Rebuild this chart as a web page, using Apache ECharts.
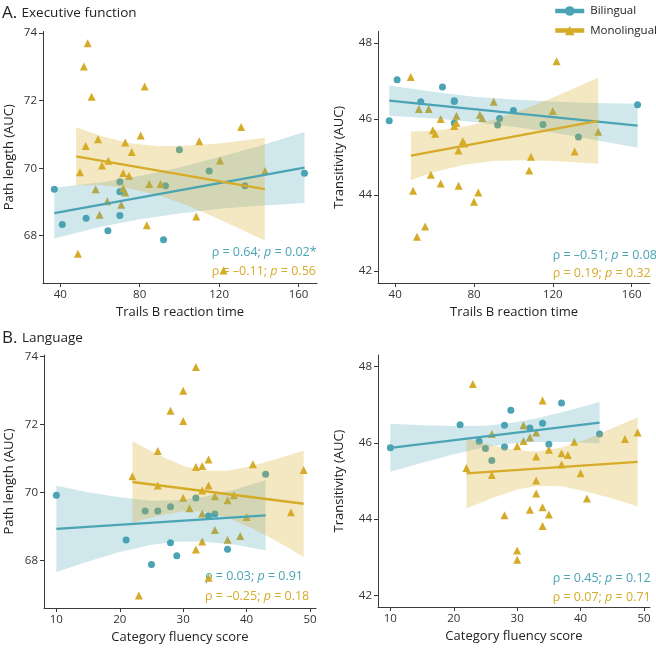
<!DOCTYPE html>
<html><head><meta charset="utf-8">
<script src="https://cdn.jsdelivr.net/npm/echarts@6/dist/echarts.min.js"></script>
<style>html,body{margin:0;padding:0;background:#fff}#c{width:656px;height:649px}</style>
</head><body><div id="c"></div>
<script>
// ---------- DATA ----------
// Panel A: Trails B reaction time (x)
const execBiPath = [[37,69.38],[41,68.33],[53,68.52],[64,68.15],[70,69.60],[70,69.30],[70,68.60],[92,67.88],[93,69.48],[100,70.55],[115,69.92],[133,69.48],[163,69.85]];
const execMonoPath = [[53.8,73.70],[51.9,73.01],[55.8,72.12],[82.5,72.42],[131.1,71.22],[80.5,70.97],[59.0,70.86],[110.0,70.80],[72.7,70.76],[52.8,70.66],[76.0,70.48],[64.2,70.22],[120.4,70.23],[61.0,70.08],[49.9,69.88],[71.7,69.86],[74.6,69.78],[143.1,69.92],[84.8,69.53],[90.5,69.53],[57.8,69.38],[71.7,69.41],[72.7,69.28],[63.7,69.02],[70.7,68.92],[59.8,68.62],[108.5,68.57],[83.6,68.31],[48.9,67.47],[122.2,66.97]];
const execBiTrans = [[37,45.95],[41,47.03],[53,46.45],[64,46.84],[70,46.48],[70,45.89],[70,46.46],[92,45.84],[93,46.01],[100,46.22],[115,45.85],[133,45.52],[163,46.37]];
const execMonoTrans = [[47.9,47.10],[121.9,47.52],[90.0,46.45],[52.0,46.26],[57.0,46.26],[120.0,46.21],[63.1,46.00],[71.1,46.08],[83.0,46.11],[84.2,46.02],[70.0,45.81],[71.1,45.89],[59.1,45.70],[60.3,45.61],[74.3,45.41],[75.1,45.35],[72.1,45.17],[143.0,45.66],[131.1,45.14],[108.9,45.00],[108.0,44.64],[58.1,44.53],[63.1,44.30],[72.2,44.24],[49.1,44.11],[82.2,44.06],[80.0,43.82],[55.2,43.17],[51.1,42.90]];
// Panel B: Category fluency score (x)
const langBiPath = [[10,69.92],[21,68.60],[24,69.46],[26,69.46],[28,69.58],[28,68.52],[25,67.88],[29,68.14],[32,69.84],[34,69.31],[35,69.37],[37,68.33],[43,70.54]];
const langMonoPath = [[32,73.70],[30,73.00],[28,72.41],[30,72.11],[26,71.22],[34,70.97],[32,70.75],[33,70.78],[41,70.83],[49,70.66],[22,70.48],[26,70.21],[34,70.21],[33,70.06],[30,69.85],[35,69.89],[38,69.92],[37,69.77],[31,69.54],[33,69.38],[47,69.42],[40,69.28],[35,68.90],[39,68.72],[33,68.56],[37,68.61],[32,68.32],[34,67.49],[23,66.97]];
const langBiTrans = [[10,45.87],[21,46.47],[24,46.04],[25,45.85],[26,45.54],[28,46.46],[28,45.89],[29,46.85],[32,46.39],[34,46.51],[35,45.96],[37,47.04],[43,46.23]];
const langMonoTrans = [[23,47.54],[34,47.11],[31,46.46],[26,46.23],[33,46.27],[31,46.05],[32,46.14],[39,46.03],[47,46.10],[49,46.27],[30,45.91],[35,45.82],[33,45.64],[37,45.73],[38,45.68],[37,45.43],[22,45.34],[26,45.16],[40,45.20],[33,45.01],[33,44.67],[41,44.54],[32,44.25],[34,44.31],[35,44.12],[28,44.10],[34,43.82],[30,43.18],[30,42.94]];

// fitted lines (endpoints) and confidence bands [x, lower, upper]
const execBiPathFit = [[37,68.67],[163,70.02]];
const execBiPathBand = [[37,67.92,69.42],[60,68.26,69.58],[80,68.49,69.77],[100,68.66,70.02],[120,68.80,70.33],[140,68.89,70.65],[163,68.97,71.07]];
const execMonoPathFit = [[48,70.35],[143,69.38]];
const execMonoPathBand = [[48,69.49,71.21],[60,69.50,70.96],[75,69.40,70.74],[90,69.19,70.65],[105,68.87,70.67],[120,68.49,70.73],[143,67.86,70.90]];
const execBiTransFit = [[37,46.48],[163,45.82]];
const execBiTransBand = [[37,46.08,46.88],[60,46.01,46.71],[80,45.92,46.58],[100,45.79,46.51],[120,45.64,46.46],[140,45.46,46.42],[163,45.24,46.40]];
const execMonoTransFit = [[48,45.03],[143,45.95]];
const execMonoTransBand = [[48,44.39,45.67],[60,44.60,45.69],[75,44.79,45.79],[90,44.89,45.98],[105,44.91,46.25],[120,44.89,46.56],[143,44.82,47.08]];
const langBiPathFit = [[10,68.93],[43,69.33]];
const langBiPathBand = [[10,67.66,70.20],[15,67.97,70.01],[20,68.25,69.86],[25,68.46,69.76],[29,68.55,69.77],[33,68.56,69.86],[38,68.47,70.08],[43,68.30,70.36]];
const langMonoPathFit = [[22,70.31],[49,69.67]];
const langMonoPathBand = [[22,69.11,71.51],[26,69.32,71.12],[30,69.45,70.79],[33,69.45,70.65],[37,69.26,70.64],[41,68.93,70.79],[45,68.54,71.00],[49,68.10,71.24]];
const langBiTransFit = [[10,45.87],[43,46.53]];
const langBiTransBand = [[10,45.24,46.50],[15,45.48,46.46],[20,45.70,46.44],[25,45.89,46.45],[29,45.98,46.52],[33,46.02,46.64],[38,46.02,46.84],[43,45.98,47.07]];
const langMonoTransFit = [[22,45.20],[49,45.50]];
const langMonoTransBand = [[22,44.28,46.12],[26,44.55,45.93],[30,44.78,45.80],[33,44.87,45.77],[37,44.86,45.88],[41,44.72,46.10],[45,44.54,46.38],[49,44.33,46.67]];

// tick labels
const trailsTicks = [40, 80, 120, 160];
const fluencyTicks = [10, 20, 30, 40, 50];
const pathTicks = [68, 70, 72, 74];
const transTicks = [42, 44, 46, 48];

// annotation texts [rho part, p value part]
const statTexts = [
  ['ρ = 0.64; ', ' = 0.02*'], ['ρ = –0.11; ', ' = 0.56'],
  ['ρ = –0.51; ', ' = 0.08^'], ['ρ = 0.19; ', ' = 0.32'],
  ['ρ = 0.03; ', ' = 0.91'], ['ρ = –0.25; ', ' = 0.18'],
  ['ρ = 0.45; ', ' = 0.12'], ['ρ = 0.07; ', ' = 0.71']
];

// ---------- STYLE ----------
const FONT = '"Open Sans", "Noto Sans", sans-serif';
const BLUE = '#4aa4b4';
const GOLD = '#d6ab28';
const BLUE_BAND = 'rgba(74,164,180,0.26)';
const GOLD_BAND = 'rgba(214,171,40,0.28)';
const AXIS_C = '#3a3a3a';

const grids = [
  {left: 43, top: 31.5, width: 274, height: 251.5},
  {left: 378, top: 31.5, width: 272, height: 251.5},
  {left: 44, top: 355, width: 272, height: 253},
  {left: 378, top: 355, width: 272, height: 252}
];

function xAx(gi, min, max, ticks, name) {
  return {type: 'value', gridIndex: gi, min: min, max: max, name: name,
    nameLocation: 'middle', nameGap: 23,
    nameTextStyle: {fontSize: 13, color: '#222', fontFamily: FONT},
    axisLine: {show: true, onZero: false, lineStyle: {color: AXIS_C, width: 1}},
    axisTick: {show: true, customValues: ticks, length: 4, lineStyle: {color: AXIS_C}},
    axisLabel: {customValues: ticks, fontSize: 11.5, color: '#333', fontFamily: FONT, margin: 6},
    splitLine: {show: false}};
}
function yAx(gi, min, max, ticks, name, gap) {
  return {type: 'value', gridIndex: gi, min: min, max: max, name: name,
    nameLocation: 'middle', nameGap: gap,
    nameTextStyle: {fontSize: 13, color: '#222', fontFamily: FONT},
    axisLine: {show: true, onZero: false, lineStyle: {color: AXIS_C, width: 1}},
    axisTick: {show: true, customValues: ticks, length: 4, lineStyle: {color: AXIS_C}},
    axisLabel: {customValues: ticks, fontSize: 11.5, color: '#333', fontFamily: FONT, margin: 6},
    splitLine: {show: false}};
}

function scatter(gi, data, sym, color, size) {
  return {type: 'scatter', xAxisIndex: gi, yAxisIndex: gi, data: data, symbol: sym,
    symbolSize: size, itemStyle: {color: color, opacity: 1}, z: 3, silent: true};
}
function band(gi, b, fill) {
  return {type: 'custom', xAxisIndex: gi, yAxisIndex: gi, z: 4, silent: true,
    data: [[b[0][0], b[0][1]]],
    renderItem: function (params, api) {
      const pts = [];
      for (let i = 0; i < b.length; i++) pts.push(api.coord([b[i][0], b[i][2]]));
      for (let i = b.length - 1; i >= 0; i--) pts.push(api.coord([b[i][0], b[i][1]]));
      return {type: 'polygon', shape: {points: pts}, style: {fill: fill}};
    }};
}
function fit(gi, data, name, sym, color) {
  return {type: 'line', name: name, xAxisIndex: gi, yAxisIndex: gi, data: data,
    symbol: sym, showSymbol: false, z: 5, silent: true,
    itemStyle: {color: color}, lineStyle: {color: color, width: 2.3}};
}

const series = [
  fit(0, execBiPathFit, 'Bilingual', 'circle', BLUE),
  fit(0, execMonoPathFit, 'Monolingual', 'triangle', GOLD),
  fit(1, execBiTransFit, 'Bilingual', 'circle', BLUE),
  fit(1, execMonoTransFit, 'Monolingual', 'triangle', GOLD),
  fit(2, langBiPathFit, 'Bilingual', 'circle', BLUE),
  fit(2, langMonoPathFit, 'Monolingual', 'triangle', GOLD),
  fit(3, langBiTransFit, 'Bilingual', 'circle', BLUE),
  fit(3, langMonoTransFit, 'Monolingual', 'triangle', GOLD),
  scatter(0, execBiPath, 'circle', BLUE, 7),
  scatter(0, execMonoPath, 'triangle', GOLD, 8),
  scatter(1, execBiTrans, 'circle', BLUE, 7),
  scatter(1, execMonoTrans, 'triangle', GOLD, 8),
  scatter(2, langBiPath, 'circle', BLUE, 7),
  scatter(2, langMonoPath, 'triangle', GOLD, 8),
  scatter(3, langBiTrans, 'circle', BLUE, 7),
  scatter(3, langMonoTrans, 'triangle', GOLD, 8),
  band(0, execBiPathBand, BLUE_BAND), band(0, execMonoPathBand, GOLD_BAND),
  band(1, execBiTransBand, BLUE_BAND), band(1, execMonoTransBand, GOLD_BAND),
  band(2, langBiPathBand, BLUE_BAND), band(2, langMonoPathBand, GOLD_BAND),
  band(3, langBiTransBand, BLUE_BAND), band(3, langMonoTransBand, GOLD_BAND)
];

function stat(idx, x, y, color) {
  const t = statTexts[idx];
  return {type: 'text', x: x, y: y, z: 1,
    style: {text: '{n|' + t[0] + '}{i|p}{n|' + t[1] + '}', verticalAlign: 'middle', align: 'left',
      rich: {n: {fontSize: 12.5, fontFamily: FONT, fill: color},
             i: {fontSize: 12.5, fontFamily: FONT, fontStyle: 'italic', fill: color}}}};
}
function label(x, y, text, size) {
  return {type: 'text', x: x, y: y, z: 1,
    style: {text: text, fontSize: size, fontFamily: FONT, fill: '#222', verticalAlign: 'middle', align: 'left'}};
}

const option = {
  backgroundColor: '#fff',
  animation: false,
  grid: grids,
  xAxis: [
    xAx(0, 31.3, 169.3, trailsTicks, 'Trails B reaction time'),
    xAx(1, 31.3, 169.3, trailsTicks, 'Trails B reaction time'),
    xAx(2, 8.05, 50.95, fluencyTicks, 'Category fluency score'),
    xAx(3, 8.05, 50.95, fluencyTicks, 'Category fluency score')
  ],
  yAxis: [
    yAx(0, 66.6, 74.05, pathTicks, 'Path length (AUC)', 27),
    yAx(1, 41.68, 48.3, transTicks, 'Transitivity (AUC)', 32),
    yAx(2, 66.6, 74.05, pathTicks, 'Path length (AUC)', 28),
    yAx(3, 41.7, 48.3, transTicks, 'Transitivity (AUC)', 32)
  ],
  legend: {
    data: ['Bilingual', 'Monolingual'], orient: 'vertical', left: 548, top: 0,
    itemWidth: 29, itemHeight: 12, itemGap: 7.5,
    lineStyle: {width: 4.5},
    textStyle: {fontSize: 11.5, fontFamily: FONT, color: '#222', padding: [0, 0, 0, 1]},
    selectedMode: false
  },
  graphic: [
    label(2, 13, 'A.', 17), label(21.5, 13.5, 'Executive function', 13.5),
    label(2, 338, 'B.', 17), label(22, 338.5, 'Language', 13.5),
    stat(0, 211.7, 252.3, BLUE), stat(1, 211.7, 271.7, GOLD),
    stat(2, 552.7, 255, BLUE), stat(3, 552.7, 273.3, GOLD),
    stat(4, 205, 576.7, BLUE), stat(5, 205, 596, GOLD),
    stat(6, 552.7, 578.3, BLUE), stat(7, 552.7, 597, GOLD)
  ],
  series: series
};
const chart = echarts.init(document.getElementById('c'), null, {renderer: 'canvas'});
chart.setOption(option);
</script></body></html>
